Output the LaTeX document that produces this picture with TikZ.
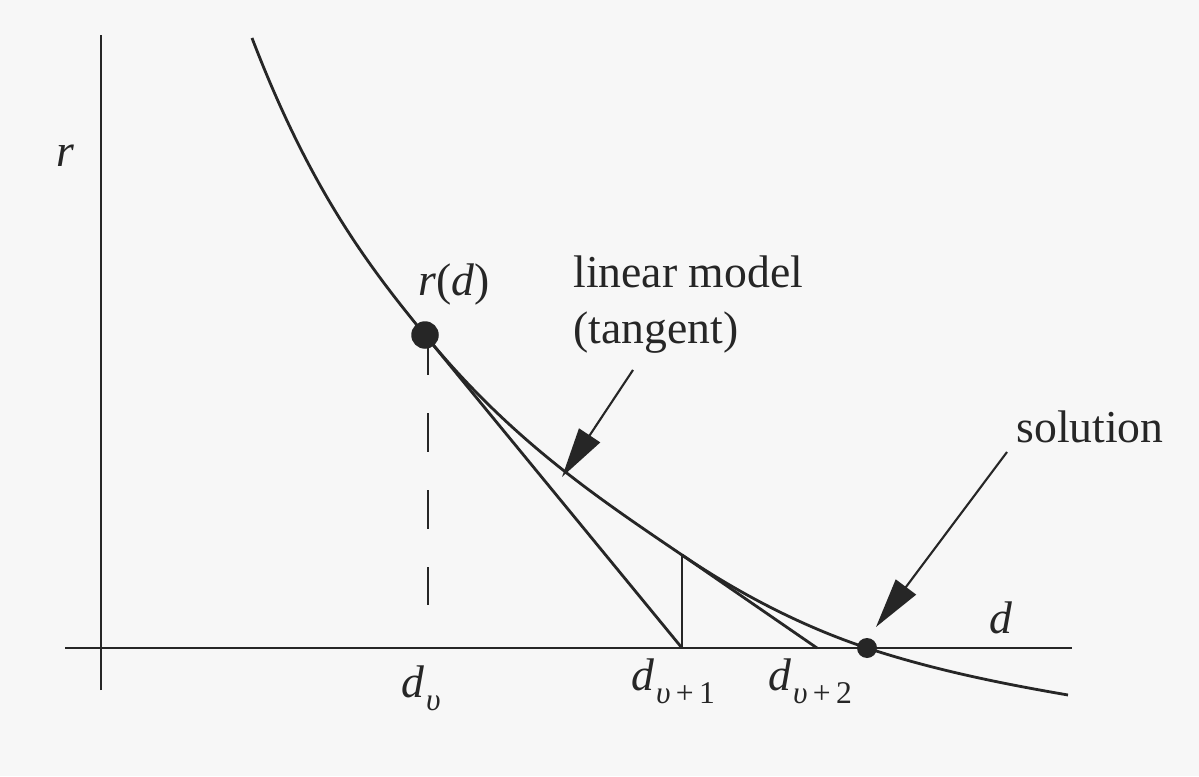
\documentclass[tikz,border=0pt]{standalone}
\usepackage{fontspec}
\setmainfont{Liberation Serif}
\usepackage{tikz}
\usetikzlibrary{arrows.meta, positioning}

\newcommand{\iter}[1]{\textit{d}\kern1pt\raisebox{-0.26cm}{\fontsize{18}{20}\selectfont #1}}

\tikzset{
  lbl/.style={inner sep=0pt, font=\fontsize{26}{32}\selectfont},
  spot/.style={circle, fill, inner sep=0pt},
  pointer/.style={line width=1.2pt, -{Triangle[length=1cm, width=0.5cm]}},
}

\begin{document}
\begin{tikzpicture}[line width=1.6pt, color=black!85]
  \useasboundingbox[fill=black!3] (0,-2.56) rectangle (23.98,12.96);

  % Axes
  \coordinate (ytop) at (2.02,12.26);
  \coordinate (ybot) at (2.02,-0.84);
  \coordinate (xleft) at (1.3,0);
  \coordinate (xright) at (21.44,0);
  \draw (ybot) -- (ytop);
  \draw (xleft) -- (xright);

  % Curve r(d)
  \coordinate (c0) at (5.04,12.2);
  \coordinate (c1) at (8.5,6.26);
  \coordinate (c2) at (13.64,1.86);
  \coordinate (c3) at (17.34,0);
  \coordinate (c4) at (21.36,-0.94);
  \draw (c0) .. controls (6.19,9.20) and (7.35,7.66) .. (c1)
             .. controls (10.21,4.17) and (11.93,3.02) .. (c2)
             .. controls (14.87,1.03) and (16.11,0.41) .. (c3)
             .. controls (18.68,-0.44) and (20.02,-0.71) .. (c4);

  % Newton steps
  \coordinate (dv1) at (13.64,0);
  \coordinate (dv2) at (16.34,0);
  \draw (c1) -- (dv1);
  \draw (dv1) -- (c2);
  \draw (c2) -- (dv2);

  % Dashed drop
  \coordinate (dtop) at (8.56,6.24);
  \coordinate (dbot) at (8.56,0.86);
  \draw[line width=1.4pt, dash pattern=on 0.78cm off 0.76cm] (dtop) -- (dbot);

  % Points
  \node[spot, minimum size=0.55cm] (rdot) at (c1) {};
  \node[spot, minimum size=0.4cm] (sdot) at (c3) {};

  % Labels
  \node[lbl, anchor=base west] (rlab) at (1.1,9.62) {\textit{r}};
  \node[lbl, anchor=base west] (rdlab) at (8.34,7.06) {\textit{r}(\textit{d})};
  \node[lbl, anchor=north west, align=left] (model) at (11.44,7.87) {linear model\\(tangent)};
  \node[lbl, anchor=base west] (sol) at (20.3,4.12) {solution};
  \node[lbl, anchor=base west] (dlab) at (19.76,0.3) {\textit{d}};
  \node[lbl, anchor=base west] (dvlab) at (8.0,-0.98) {\iter{\textit{υ}}};
  \node[lbl, anchor=base west] (dv1lab) at (12.6,-0.84) {\iter{\textit{υ}\,+\,1}};
  \node[lbl, anchor=base west] (dv2lab) at (15.34,-0.84) {\iter{\textit{υ}\,+\,2}};

  % Pointers
  \coordinate (mtail) at (12.66,5.56);
  \coordinate (mtip) at (11.24,3.42);
  \coordinate (stail) at (20.14,3.92);
  \coordinate (stip) at (17.52,0.42);
  \draw[pointer] (mtail) -- (mtip);
  \draw[pointer] (stail) -- (stip);
\end{tikzpicture}
\end{document}
